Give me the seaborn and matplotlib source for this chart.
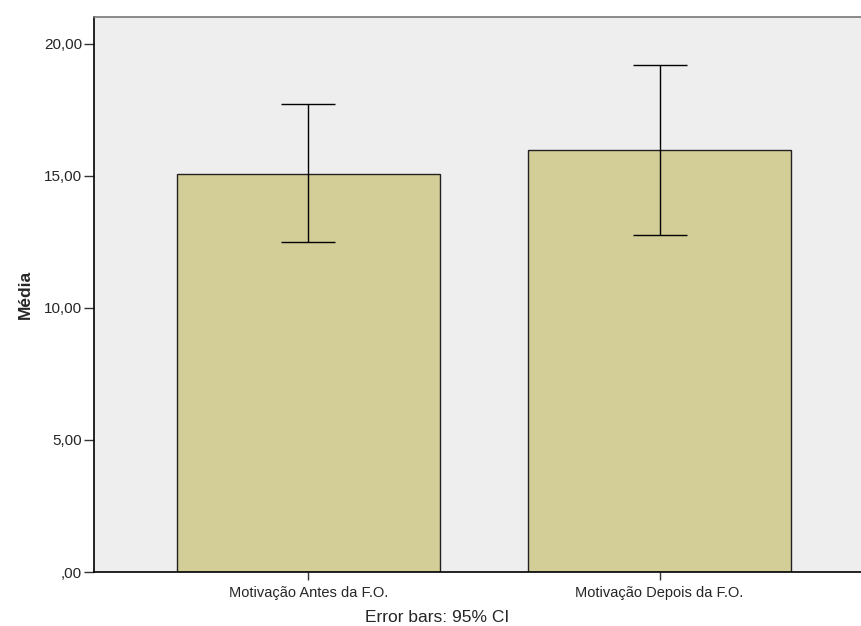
import numpy as np
import pandas as pd
import matplotlib
matplotlib.use('Agg')
import matplotlib.pyplot as plt
import seaborn as sns

# Values
categories = ['Motivação Antes da F.O.', 'Motivação Depois da F.O.']
means = [15.08, 15.98]
ci_low = [12.48, 12.77]
ci_high = [17.73, 19.22]
yticks = [0, 5, 10, 15, 20]
ytick_labels = [',00', '5,00', '10,00', '15,00', '20,00']

sns.set_style('white')
plt.rcParams['font.family'] = ['Liberation Sans', 'DejaVu Sans']

df = pd.DataFrame({'var': categories, 'mean': means})

fig = plt.figure(figsize=(8.61, 6.26), dpi=100)
ax = fig.add_axes([94 / 861, 54 / 626, 1 - 94 / 861, 555 / 626])
ax.set_facecolor('#EEEEEE')

sns.barplot(data=df, x='var', y='mean', color='#D3CE97', saturation=1,
            width=0.75, edgecolor='#222222', linewidth=1.0, errorbar=None, ax=ax)

lo = np.array(means) - np.array(ci_low)
hi = np.array(ci_high) - np.array(means)
ax.errorbar(np.arange(len(categories)), means, yerr=[lo, hi], fmt='none',
            ecolor='black', elinewidth=1.0, capsize=19.4, capthick=1.0)

ax.set_xlim(-0.611, 1.574)
ax.set_ylim(0, 21.02)
ax.set_yticks(yticks)
ax.set_yticklabels(ytick_labels, fontsize=11)
ax.tick_params(axis='x', labelsize=10.5, length=6, width=1, color='#333333', direction='out', pad=4)
ax.tick_params(axis='y', length=7.5, width=1, color='#333333', direction='out', pad=1)
ax.tick_params(axis='both', bottom=True, left=True)

ax.set_xlabel('')
ax.set_ylabel('Média', fontsize=12.5, fontweight='bold', labelpad=8)

for side in ['left', 'bottom']:
    ax.spines[side].set_color('black')
    ax.spines[side].set_linewidth(1.2)
ax.spines['top'].set_color('#777777')
ax.spines['top'].set_linewidth(1.2)
ax.spines['right'].set_visible(False)

fig.text(437 / 861, 1 - 618 / 626, 'Error bars: 95% CI', ha='center', va='center', fontsize=12.5)

fig.savefig('out.png', dpi=100)
